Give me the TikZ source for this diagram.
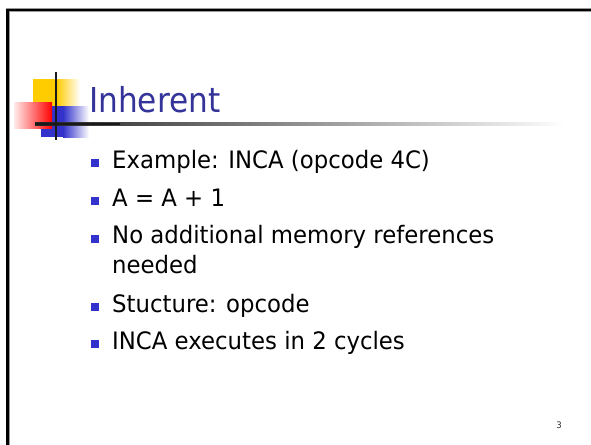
\documentclass[tikz,border=0pt]{standalone}
\usepackage{fontspec}
\setmainfont{DejaVu Sans}
\newfontfamily\bodyfont[FakeStretch=0.95]{DejaVu Sans}
\newfontfamily\titlefont[FakeStretch=0.91]{DejaVu Sans}
\definecolor{titleblue}{HTML}{333399}
\definecolor{bulletblue}{HTML}{3333CC}
\definecolor{sqyellow}{HTML}{FFCC00}
\definecolor{sqred}{HTML}{FF0000}
\definecolor{rulegray}{HTML}{222222}
\tikzset{
  bodytext/.style={anchor=base west, inner sep=0pt, font=\bodyfont\fontsize{24pt}{30pt}\selectfont, text=black},
  bulletsq/.style={fill=bulletblue, draw=none, minimum size=8pt, inner sep=0pt},
  blackbar/.style={draw=black!90, line width=2.5pt},
}
\begin{document}
\begin{tikzpicture}[x=1pt,y=-1pt]
\useasboundingbox (0,0) rectangle (591,444);
\fill[white] (0,0) rectangle (591,444);
% slide frame
\draw[black!40, line width=4pt] (7.5,600) -- (7.5,10) -- (700,10);
\draw[black, line width=2.5pt] (7.5,600) -- (7.5,10) -- (700,10);
% decoration squares
\shade[left color=sqyellow, right color=white, middle color=sqyellow] (33,79) rectangle (80,107);
\fill[sqyellow] (33,79) rectangle (55,107);
\shade[left color=bulletblue, right color=white] (63,106) rectangle (89,137);
\fill[bulletblue] (41,106) rectangle (63,137);
\shade[left color=sqred!8, right color=sqred] (14,102) rectangle (52,128);
% title rule and bars
\shade[left color=rulegray, right color=white] (35,122.8) rectangle (565,125.3);
\fill[black!90] (35,122.8) rectangle (120,125.3);
\draw[blackbar] (56,72) -- (56,140);
% title
\node[anchor=base west, inner sep=0pt, text=titleblue, font=\titlefont\fontsize{34.3pt}{40pt}\selectfont] (title) at (89,112) {Inherent};
% bullets
\node[bodytext] (l1) at (112,168) {Example: INCA (opcode 4C)};
\node[bodytext] (l2) at (112,206) {A = A + 1};
\node[bodytext] (l3) at (112,243.5) {No additional memory references};
\node[bodytext] (l3b) at (112,273.5) {needed};
\node[bodytext] (l4) at (112,312) {Stucture: opcode};
\node[bodytext] (l5) at (112,349) {INCA executes in 2 cycles};
\node[bulletsq] (b1) at (94.5,163) {};
\node[bulletsq] (b2) at (94.5,201) {};
\node[bulletsq] (b3) at (94.5,238.5) {};
\node[bulletsq] (b4) at (94.5,307) {};
\node[bulletsq] (b5) at (94.5,344) {};
% page number
\node[anchor=base, inner sep=0pt, font=\bodyfont\fontsize{9pt}{10pt}\selectfont, text=black!80] (pg) at (559,428) {3};
\end{tikzpicture}
\end{document}
